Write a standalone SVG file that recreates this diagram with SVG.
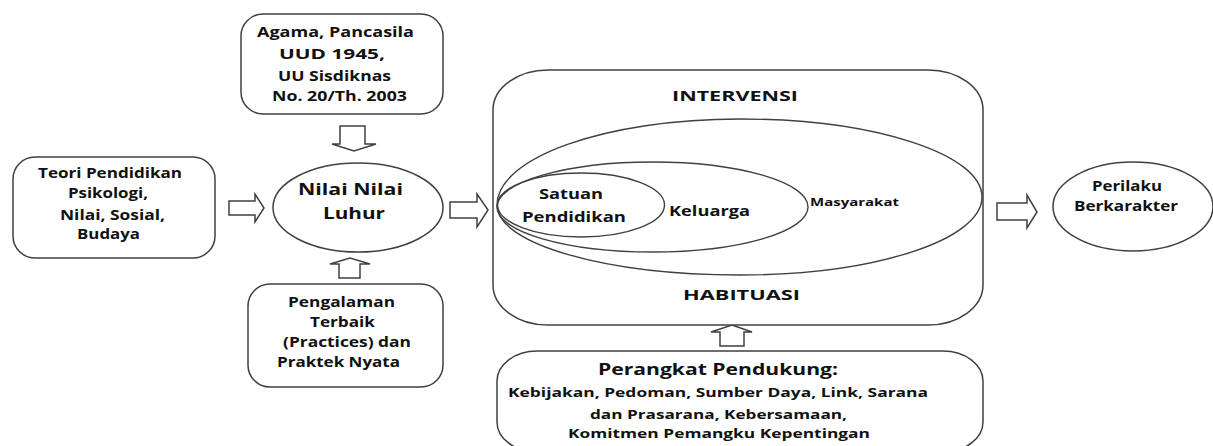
<svg xmlns="http://www.w3.org/2000/svg" width="1213" height="446" viewBox="0 0 1213 446">
<style>
.box{fill:#fff;stroke:#404040;stroke-width:1.5}
.ln{fill:none;stroke:#404040;stroke-width:1.4}
.arr{fill:#fff;stroke:#404040;stroke-width:1.5;stroke-linejoin:miter}
text{font-family:"Open Sans","Noto Sans","DejaVu Sans",sans-serif;font-weight:bold;fill:#111}
.t14{font-size:13.5px}
.t16{font-size:16px}
.t12{font-size:12.5px}
.t11{font-size:11px}
</style>
<rect width="1213" height="446" fill="#fff"/>
<g id="connectors">
<polygon class="arr" points="340,126 365,126 365,144 376,144 354,151 332,144 340,144"/>
<polygon class="arr" points="229,201 255,201 255,194 264,208 255,222 255,215 229,215"/>
<polygon class="arr" points="450,202 477,202 477,194 488,210 477,227 477,218 450,218"/>
<polygon class="arr" points="339,278 360,278 360,264 370,264 350,258 330,264 339,264"/>
<polygon class="arr" points="720,346 744,346 744,332 752,332 732,325 711,332 720,332"/>
<polygon class="arr" points="997,203 1027,203 1027,195 1037,212 1027,228 1027,220 997,220"/>
</g>
<g id="node-agama">
<rect class="box" x="241" y="14" width="202" height="100" rx="22" ry="22"/>
<text class="t14" x="257" y="37" textLength="157" lengthAdjust="spacingAndGlyphs">Agama, Pancasila</text>
<text class="t14" x="279" y="59" textLength="106" lengthAdjust="spacingAndGlyphs">UUD 1945,</text>
<text class="t14" x="278" y="81" textLength="113" lengthAdjust="spacingAndGlyphs">UU Sisdiknas</text>
<text class="t14" x="272" y="101" textLength="135" lengthAdjust="spacingAndGlyphs">No. 20/Th. 2003</text>
</g>
<g id="node-teori">
<rect class="box" x="13" y="157" width="202" height="101" rx="22" ry="22"/>
<text class="t14" x="38" y="178" textLength="144" lengthAdjust="spacingAndGlyphs">Teori Pendidikan</text>
<text class="t14" x="68" y="198" textLength="80" lengthAdjust="spacingAndGlyphs">Psikologi,</text>
<text class="t14" x="60" y="220" textLength="105" lengthAdjust="spacingAndGlyphs">Nilai, Sosial,</text>
<text class="t14" x="77" y="239" textLength="63" lengthAdjust="spacingAndGlyphs">Budaya</text>
</g>
<g id="node-nilai">
<ellipse class="box" cx="358" cy="207.5" rx="85" ry="44.5"/>
<text class="t16" x="298" y="195" textLength="105" lengthAdjust="spacingAndGlyphs">Nilai Nilai</text>
<text class="t16" x="323" y="219" textLength="62" lengthAdjust="spacingAndGlyphs">Luhur</text>
</g>
<g id="node-pengalaman">
<rect class="box" x="248" y="284" width="195" height="103" rx="22" ry="22"/>
<text class="t14" x="288" y="307" textLength="107" lengthAdjust="spacingAndGlyphs">Pengalaman</text>
<text class="t14" x="310" y="327" textLength="65" lengthAdjust="spacingAndGlyphs">Terbaik</text>
<text class="t14" x="283" y="347" textLength="128" lengthAdjust="spacingAndGlyphs">(Practices) dan</text>
<text class="t14" x="277" y="367" textLength="123" lengthAdjust="spacingAndGlyphs">Praktek Nyata</text>
</g>
<g id="node-intervensi">
<rect class="box" x="493" y="70" width="490" height="255" rx="55" ry="40"/>
<text class="t14" x="672" y="101" textLength="126" lengthAdjust="spacingAndGlyphs">INTERVENSI</text>
<text class="t14" x="683" y="300" textLength="117" lengthAdjust="spacingAndGlyphs">HABITUASI</text>
</g>
<g id="node-masyarakat">
<path class="ln" d="M497,205 C497,157.5 606,119 740,119 C874,119 982,154 982,197 C982,240 874,275 740,275 C606,275 497,244 497,205 Z"/>
<text class="t11" x="810" y="206" textLength="89" lengthAdjust="spacingAndGlyphs">Masyarakat</text>
</g>
<g id="node-keluarga">
<ellipse class="ln" cx="652.5" cy="207" rx="155.5" ry="45"/>
<text class="t14" x="669" y="216" textLength="81" lengthAdjust="spacingAndGlyphs">Keluarga</text>
</g>
<g id="node-satuan">
<ellipse class="ln" cx="581" cy="205" rx="83.5" ry="32"/>
<text class="t14" x="539" y="199" textLength="64" lengthAdjust="spacingAndGlyphs">Satuan</text>
<text class="t14" x="522" y="222" textLength="104" lengthAdjust="spacingAndGlyphs">Pendidikan</text>
</g>
<g id="node-perangkat">
<rect class="box" x="497" y="351" width="486" height="101" rx="40" ry="30"/>
<text class="t16" x="598" y="375" textLength="240" lengthAdjust="spacingAndGlyphs">Perangkat Pendukung:</text>
<text class="t12" x="508" y="396.5" textLength="420" lengthAdjust="spacingAndGlyphs">Kebijakan, Pedoman, Sumber  Daya, Link, Sarana</text>
<text class="t12" x="590" y="418.5" textLength="257" lengthAdjust="spacingAndGlyphs">dan Prasarana, Kebersamaan,</text>
<text class="t12" x="568" y="437.5" textLength="302" lengthAdjust="spacingAndGlyphs">Komitmen Pemangku Kepentingan</text>
</g>
<g id="node-perilaku">
<ellipse class="box" cx="1133" cy="206.5" rx="80" ry="44.5"/>
<text class="t14" x="1092" y="191" textLength="70" lengthAdjust="spacingAndGlyphs">Perilaku</text>
<text class="t14" x="1074" y="211" textLength="104" lengthAdjust="spacingAndGlyphs">Berkarakter</text>
</g>
</svg>
